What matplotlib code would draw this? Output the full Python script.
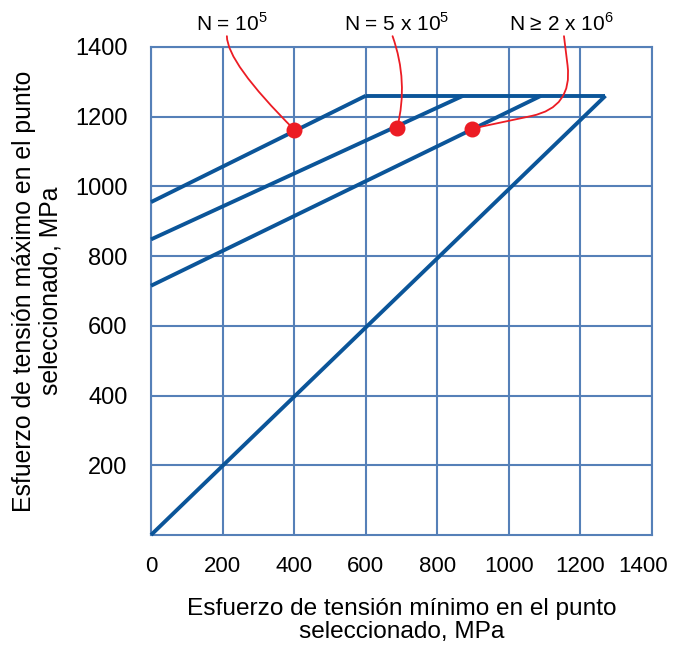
import matplotlib
matplotlib.use('Agg')
import matplotlib.pyplot as plt
from matplotlib.transforms import ScaledTranslation

plt.rcParams['font.family'] = ['Liberation Sans', 'DejaVu Sans']
plt.rcParams['mathtext.fontset'] = 'custom'
plt.rcParams['mathtext.rm'] = 'Liberation Sans'

# rectas del diagrama (x = esfuerzo minimo, y = esfuerzo maximo), MPa
diag_x = [0, 1270]
diag_y = [0, 1260]
tope_x = [600, 1270]
tope_y = [1260, 1260]
n1_x = [0, 600]
n1_y = [955, 1260]
n2_x = [0, 872]
n2_y = [848, 1260]
n3_x = [0, 1090]
n3_y = [715, 1260]

# puntos seleccionados
puntos_x = [400, 688, 898]
puntos_y = [1163, 1168, 1166]
etiquetas = [r'N = 10$^{\mathregular{5}}$',
             r'N = 5 x 10$^{\mathregular{5}}$',
             r'N ≥ 2 x 10$^{\mathregular{6}}$']
etiquetas_x = [226, 687, 1148]
inicio_x = [212, 675, 1154]

azul_rejilla = '#5580b8'
azul_linea = '#0b5599'
rojo = '#ec1c24'

fig = plt.figure(figsize=(6.73, 6.48), dpi=100)
ax = fig.add_axes([0.2244, 0.1744, 0.7444, 0.7531])

ax.set_xlim(0, 1400)
ax.set_ylim(0, 1400)
ax.set_xticks(range(0, 1401, 200))
ax.set_yticks(range(200, 1401, 200))
ax.grid(True, color=azul_rejilla, linewidth=1.5)
ax.set_axisbelow(True)
for s in ax.spines.values():
    s.set_color(azul_rejilla)
    s.set_linewidth(1.5)
ax.tick_params(length=0)
ax.tick_params(axis='y', labelsize=17, pad=17)
ax.tick_params(axis='x', labelsize=16, pad=15)

# la ultima etiqueta del eje x queda dentro de la imagen
ultima = ax.get_xticklabels()[-1]
ultima.set_transform(ultima.get_transform() +
                     ScaledTranslation(-9 / 100, 0, fig.dpi_scale_trans))

for xs, ys in ((diag_x, diag_y), (tope_x, tope_y), (n1_x, n1_y),
               (n2_x, n2_y), (n3_x, n3_y)):
    ax.plot(xs, ys, color=azul_linea, linewidth=2.8, clip_on=False,
            solid_capstyle='butt', zorder=3)

estilos = ['angle3,angleA=90,angleB=-45',
           'arc3,rad=-0.15',
           'angle,angleA=97,angleB=12,rad=42']
for i in range(3):
    ax.annotate('', xy=(puntos_x[i], puntos_y[i]),
                xytext=(inicio_x[i], 1431),
                arrowprops=dict(arrowstyle='-', color=rojo, linewidth=1.3,
                                shrinkA=0, shrinkB=0,
                                connectionstyle=estilos[i]),
                annotation_clip=False, zorder=4)
    ax.text(etiquetas_x[i], 1468, etiquetas[i], ha='center', va='center',
            fontsize=15, clip_on=False)

ax.plot(puntos_x, puntos_y, 'o', color=rojo, markersize=10.5, zorder=5,
        clip_on=False)

ax.set_xlabel('Esfuerzo de tensión mínimo en el punto\nseleccionado, MPa',
              fontsize=17.6, labelpad=15, linespacing=1.1)
ax.set_ylabel('Esfuerzo de tensión máximo en el punto\nseleccionado, MPa',
              fontsize=17.8, labelpad=9, linespacing=1.15)

fig.savefig('out.png', dpi=100)
